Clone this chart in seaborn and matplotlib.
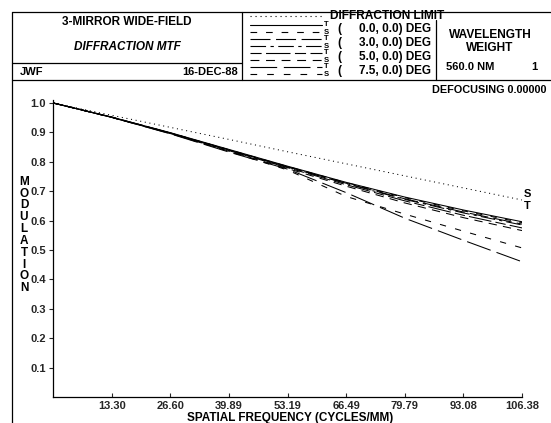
import numpy as np
import pandas as pd
import matplotlib
matplotlib.use("Agg")
import matplotlib.pyplot as plt
import seaborn as sns

# ---------------- data ----------------
freq = [0.0, 13.30, 26.60, 39.89, 53.19, 66.49, 79.79, 93.08, 106.38]
tick_labels = ["13.30", "26.60", "39.89", "53.19", "66.49", "79.79", "93.08", "106.38"]
y_ticks = [0.1, 0.2, 0.3, 0.4, 0.5, 0.6, 0.7, 0.8, 0.9, 1.0]

diffraction = [1.0, 0.958, 0.917, 0.876, 0.834, 0.793, 0.752, 0.711, 0.670]
f00_T = [1.0, 0.952, 0.899, 0.842, 0.785, 0.730, 0.680, 0.636, 0.596]
f00_S = [1.0, 0.952, 0.898, 0.841, 0.784, 0.729, 0.678, 0.633, 0.593]
f30_T = [1.0, 0.951, 0.898, 0.840, 0.783, 0.727, 0.674, 0.629, 0.588]
f30_S = [1.0, 0.952, 0.898, 0.840, 0.782, 0.726, 0.672, 0.626, 0.585]
f50_T = [1.0, 0.951, 0.897, 0.838, 0.780, 0.722, 0.667, 0.618, 0.575]
f50_S = [1.0, 0.951, 0.896, 0.836, 0.777, 0.717, 0.660, 0.610, 0.566]
f75_T = [1.0, 0.951, 0.895, 0.833, 0.775, 0.695, 0.608, 0.533, 0.460]
f75_S = [1.0, 0.951, 0.896, 0.835, 0.772, 0.682, 0.622, 0.564, 0.507]

series = {
    "DL": diffraction,
    "0T": f00_T, "0S": f00_S,
    "3T": f30_T, "3S": f30_S,
    "5T": f50_T, "5S": f50_S,
    "7T": f75_T, "7S": f75_S,
}
dashes = {
    "DL": (1, 3.5),
    "0T": "", "0S": (6, 8),
    "3T": (18, 5), "3S": (14, 4, 3, 4),
    "5T": (10, 4, 22, 4), "5S": (8, 6),
    "7T": (24, 6), "7S": (6, 9),
}

df = pd.DataFrame(
    [(k, f, v) for k, vals in series.items() for f, v in zip(freq, vals)],
    columns=["curve", "freq", "mtf"],
)

# ---------------- figure ----------------
sns.set_style("white")
plt.rcParams["font.family"] = ["Liberation Sans", "DejaVu Sans"]
plt.rcParams["font.weight"] = "bold"

W, H = 551, 423
fig = plt.figure(figsize=(W / 100, H / 100), dpi=100)

# overlay for header/frame in pixel coords
ov = fig.add_axes([0, 0, 1, 1], zorder=0)
ov.set_xlim(0, W)
ov.set_ylim(H, 0)
ov.axis("off")

lk = dict(color="black", lw=0.9)
ov.plot([12, 551], [12, 12], **lk)
ov.plot([12, 551], [80, 80], **lk)
ov.plot([12, 12], [12, 423], **lk)
ov.plot([242, 242], [12, 80], **lk)
ov.plot([12, 242], [63, 63], **lk)
ov.plot([436, 436], [20, 80], **lk)

tk = dict(fontweight="bold", color="black")
ov.text(127, 22, "3-MIRROR WIDE-FIELD", ha="center", va="center", fontsize=8.5, **tk)
ov.text(127, 47, "DIFFRACTION MTF", ha="center", va="center", fontsize=8.5,
        style="italic", **tk)
ov.text(20, 72, "JWF", ha="left", va="center", fontsize=8, **tk)
ov.text(238, 72, "16-DEC-88", ha="right", va="center", fontsize=8, **tk)

# legend
ov.plot([250, 322], [16, 16], color="black", lw=0.8, dashes=dashes["DL"])
ov.text(330, 16, "DIFFRACTION LIMIT", ha="left", va="center", fontsize=8.6, **tk)
rows = [("0.0, 0.0) DEG", "0T", "0S", 29),
        ("3.0, 0.0) DEG", "3T", "3S", 43),
        ("5.0, 0.0) DEG", "5T", "5S", 57),
        ("7.5, 0.0) DEG", "7T", "7S", 71)]
for lab, kt, ks, yy in rows:
    d = dashes[kt]
    if d == "":
        ov.plot([250, 322], [yy - 4, yy - 4], color="black", lw=0.8)
    else:
        ov.plot([250, 322], [yy - 4, yy - 4], color="black", lw=0.8, dashes=d)
    ov.plot([250, 322], [yy + 3, yy + 3], color="black", lw=0.8, dashes=dashes[ks])
    ov.text(326, yy - 4, "T", ha="center", va="center", fontsize=5.5, **tk)
    ov.text(326, yy + 3, "S", ha="center", va="center", fontsize=5.5, **tk)
    ov.text(337, yy, "(", ha="left", va="center", fontsize=8.5, **tk)
    ov.text(431, yy, lab, ha="right", va="center", fontsize=8.5, **tk)

ov.text(490, 35, "WAVELENGTH", ha="center", va="center", fontsize=8.6, **tk)
ov.text(490, 48, "WEIGHT", ha="center", va="center", fontsize=8.6, **tk)
ov.text(470, 67, "560.0 NM", ha="center", va="center", fontsize=8, **tk)
ov.text(534, 67, "1", ha="center", va="center", fontsize=8, **tk)
ov.text(546, 90, "DEFOCUSING 0.00000", ha="right", va="center", fontsize=7.8, **tk)

ov.text(24, 235, "\n".join("MODULATION"), ha="center", va="center",
        fontsize=8.5, linespacing=0.98, **tk)
ov.text(290, 418, "SPATIAL FREQUENCY (CYCLES/MM)", ha="center", va="center",
        fontsize=8.5, **tk)

# main plot
ax = fig.add_axes([53 / W, 1 - 397 / H, (522 - 53) / W, (397 - 100) / H], zorder=1)
ax.patch.set_alpha(0)
sns.lineplot(data=df, x="freq", y="mtf", hue="curve", style="curve",
             palette={k: "black" for k in series}, dashes=dashes,
             linewidth=0.75, legend=False, ax=ax)
ax.set_xlim(0, 106.38)
ax.set_ylim(0, 1.01)
ax.set_xticks(freq[1:])
ax.set_xticklabels(tick_labels)
ax.set_yticks(y_ticks)
ax.set_yticklabels([f"{v:.1f}" for v in y_ticks])
ax.set_xlabel("")
ax.set_ylabel("")
for s in ["top", "right"]:
    ax.spines[s].set_visible(False)
for s in ["left", "bottom"]:
    ax.spines[s].set_color("black")
    ax.spines[s].set_linewidth(0.9)
ax.tick_params(axis="y", direction="out", length=3, width=0.8, pad=2,
               labelsize=8, left=True)
ax.tick_params(axis="x", direction="in", length=3, width=0.8, pad=3,
               labelsize=8, bottom=True)
for lab in ax.get_xticklabels() + ax.get_yticklabels():
    lab.set_fontweight("bold")

ax.text(107.6, 0.69, "S", ha="center", va="center", fontsize=8,
        clip_on=False, **tk)
ax.text(107.6, 0.65, "T", ha="center", va="center", fontsize=8,
        clip_on=False, **tk)

fig.savefig("out.png", dpi=100)
